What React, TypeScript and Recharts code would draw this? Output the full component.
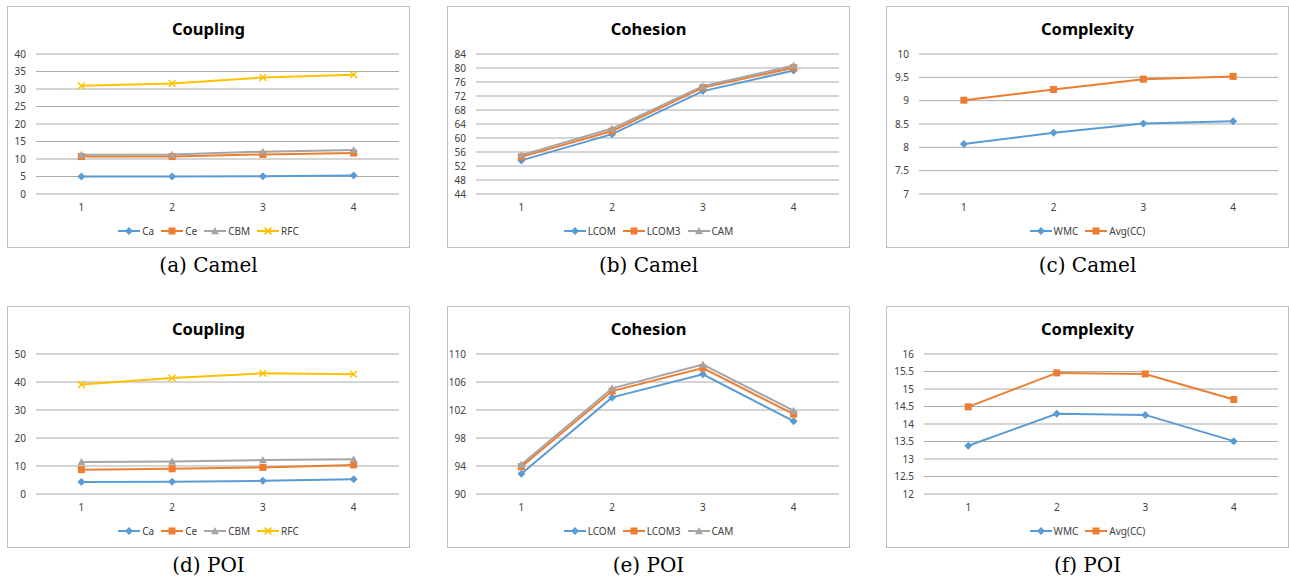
import React from "react";
import { LineChart, Line, XAxis, YAxis, CartesianGrid } from "recharts";

const xValues = [1, 2, 3, 4];

// Camel
const camelCa = [5.0, 5.0, 5.1, 5.3];
const camelCe = [10.7, 10.7, 11.3, 11.7];
const camelCbm = [11.2, 11.3, 12.1, 12.6];
const camelRfc = [30.9, 31.6, 33.3, 34.1];
const camelLcom = [53.6, 61.1, 73.4, 79.3];
const camelLcom3 = [54.6, 62.0, 74.4, 80.1];
const camelCam = [55.1, 62.7, 74.8, 80.7];
const camelWmc = [8.07, 8.31, 8.51, 8.56];
const camelAvgCc = [9.01, 9.24, 9.46, 9.52];

// POI
const poiCa = [4.3, 4.4, 4.7, 5.3];
const poiCe = [8.7, 9.0, 9.5, 10.4];
const poiCbm = [11.4, 11.6, 12.1, 12.4];
const poiRfc = [39.1, 41.4, 43.1, 42.8];
const poiLcom = [92.9, 103.8, 107.1, 100.4];
const poiLcom3 = [93.9, 104.7, 108.0, 101.4];
const poiCam = [94.2, 105.1, 108.5, 101.9];
const poiWmc = [13.38, 14.29, 14.26, 13.51];
const poiAvgCc = [14.49, 15.46, 15.43, 14.7];

// y-axis ticks
const couplingCamelTicks = [0, 5, 10, 15, 20, 25, 30, 35, 40];
const cohesionCamelTicks = [44, 48, 52, 56, 60, 64, 68, 72, 76, 80, 84];
const complexityCamelTicks = [7, 7.5, 8, 8.5, 9, 9.5, 10];
const couplingPoiTicks = [0, 10, 20, 30, 40, 50];
const cohesionPoiTicks = [90, 94, 98, 102, 106, 110];
const complexityPoiTicks = [12, 12.5, 13, 13.5, 14, 14.5, 15, 15.5, 16];

const BLUE = "#5B9BD5";
const ORANGE = "#ED7D31";
const GRAY = "#A5A5A5";
const YELLOW = "#FFC000";

type Marker = "diamond" | "square" | "triangle" | "x";
interface Series {
  name: string;
  values: number[];
  color: string;
  marker: Marker;
}

function markerShape(marker: Marker, color: string, cx: number, cy: number, key?: string) {
  if (marker === "diamond") {
    const r = 4;
    return (
      <path key={key} d={`M${cx},${cy - r}L${cx + r},${cy}L${cx},${cy + r}L${cx - r},${cy}Z`} fill={color} />
    );
  }
  if (marker === "square") {
    const s = 7;
    return <rect key={key} x={cx - s / 2} y={cy - s / 2} width={s} height={s} fill={color} />;
  }
  if (marker === "triangle") {
    const r = 4;
    return (
      <path key={key} d={`M${cx},${cy - r}L${cx + r},${cy + 3.2}L${cx - r},${cy + 3.2}Z`} fill={color} />
    );
  }
  const r = 3.4;
  return (
    <g key={key} stroke={color} strokeWidth={1.5}>
      <line x1={cx - r} y1={cy - r} x2={cx + r} y2={cy + r} />
      <line x1={cx - r} y1={cy + r} x2={cx + r} y2={cy - r} />
    </g>
  );
}

const makeDot = (marker: Marker, color: string) => (props: any) => {
  const { cx, cy, index } = props;
  if (cx == null || cy == null) return <g key={`e-${index}`} />;
  return markerShape(marker, color, cx, cy, `d-${index}`);
};

interface PanelProps {
  left: number;
  top: number;
  title: string;
  caption: string;
  series: Series[];
  ticks: number[];
  yWidth: number;
}

const tickStyle = { fontSize: 10, fill: "#404040", fontFamily: "Noto Sans" };

function Panel({ left, top, title, caption, series, ticks, yWidth }: PanelProps) {
  const data = xValues.map((x, i) => {
    const row: Record<string, number> = { x };
    series.forEach((s) => (row[s.name] = s.values[i]));
    return row;
  });

  return (
    <>
      <div
        style={{
          position: "absolute",
          left,
          top,
          width: 403,
          height: 242,
          boxSizing: "border-box",
          border: "1px solid #bfbfbf",
          background: "#fff",
        }}
      >
        <div
          style={{
            position: "absolute",
            left: 0,
            right: 0,
            top: 10,
            textAlign: "center",
            fontFamily: "Noto Sans",
            fontWeight: 700,
            fontSize: 16.5,
            color: "#000",
          }}
        >
          {title}
        </div>
        <LineChart width={401} height={240} data={data} margin={{ top: 47, right: 10, left: 0, bottom: 33 }}>
          <CartesianGrid vertical={false} stroke="#ababab" />
          <XAxis
            dataKey="x"
            type="number"
            domain={[0.5, 4.5]}
            ticks={xValues}
            axisLine={false}
            tickLine={false}
            tick={tickStyle}
            tickMargin={4}
            height={20}
          />
          <YAxis
            type="number"
            domain={[ticks[0], ticks[ticks.length - 1]]}
            ticks={ticks}
            interval={0}
            width={yWidth}
            axisLine={false}
            tickLine={false}
            tick={tickStyle}
            tickMargin={4}
          />
          {series.map((s) => (
            <Line
              key={s.name}
              dataKey={s.name}
              stroke={s.color}
              strokeWidth={2}
              dot={makeDot(s.marker, s.color)}
              activeDot={false}
              isAnimationActive={false}
            />
          ))}
        </LineChart>
        <div
          style={{
            position: "absolute",
            left: 0,
            right: 0,
            top: 217,
            height: 14,
            display: "flex",
            justifyContent: "center",
            alignItems: "center",
            gap: 7,
            fontFamily: "Noto Sans",
            fontSize: 10,
            color: "#404040",
          }}
        >
          {series.map((s) => (
            <div key={s.name} style={{ display: "flex", alignItems: "center", gap: 2 }}>
              <svg width={22} height={10}>
                <line x1={0} y1={5} x2={22} y2={5} stroke={s.color} strokeWidth={2} />
                {markerShape(s.marker, s.color, 11, 5)}
              </svg>
              <span>{s.name}</span>
            </div>
          ))}
        </div>
      </div>
      <div
        style={{
          position: "absolute",
          left,
          top: top + 247,
          width: 403,
          textAlign: "center",
          fontFamily: "DejaVu Serif",
          fontSize: 20,
          lineHeight: "24px",
          color: "#000",
        }}
      >
        {caption}
      </div>
    </>
  );
}

export default function App() {
  const couplingSeries = (ca: number[], ce: number[], cbm: number[], rfc: number[]): Series[] => [
    { name: "Ca", values: ca, color: BLUE, marker: "diamond" },
    { name: "Ce", values: ce, color: ORANGE, marker: "square" },
    { name: "CBM", values: cbm, color: GRAY, marker: "triangle" },
    { name: "RFC", values: rfc, color: YELLOW, marker: "x" },
  ];
  const cohesionSeries = (lcom: number[], lcom3: number[], cam: number[]): Series[] => [
    { name: "LCOM", values: lcom, color: BLUE, marker: "diamond" },
    { name: "LCOM3", values: lcom3, color: ORANGE, marker: "square" },
    { name: "CAM", values: cam, color: GRAY, marker: "triangle" },
  ];
  const complexitySeries = (wmc: number[], avg: number[]): Series[] => [
    { name: "WMC", values: wmc, color: BLUE, marker: "diamond" },
    { name: "Avg(CC)", values: avg, color: ORANGE, marker: "square" },
  ];

  return (
    <div
      style={{
        position: "absolute",
        left: 0,
        top: 0,
        width: 1289,
        height: 580,
        overflow: "hidden",
        background: "#fff",
      }}
    >
      <Panel
        left={7}
        top={6}
        title="Coupling"
        caption="(a) Camel"
        series={couplingSeries(camelCa, camelCe, camelCbm, camelRfc)}
        ticks={couplingCamelTicks}
        yWidth={28}
      />
      <Panel
        left={447}
        top={6}
        title="Cohesion"
        caption="(b) Camel"
        series={cohesionSeries(camelLcom, camelLcom3, camelCam)}
        ticks={cohesionCamelTicks}
        yWidth={28}
      />
      <Panel
        left={886}
        top={6}
        title="Complexity"
        caption="(c) Camel"
        series={complexitySeries(camelWmc, camelAvgCc)}
        ticks={complexityCamelTicks}
        yWidth={32}
      />
      <Panel
        left={7}
        top={306}
        title="Coupling"
        caption="(d) POI"
        series={couplingSeries(poiCa, poiCe, poiCbm, poiRfc)}
        ticks={couplingPoiTicks}
        yWidth={28}
      />
      <Panel
        left={447}
        top={306}
        title="Cohesion"
        caption="(e) POI"
        series={cohesionSeries(poiLcom, poiLcom3, poiCam)}
        ticks={cohesionPoiTicks}
        yWidth={28}
      />
      <Panel
        left={886}
        top={306}
        title="Complexity"
        caption="(f) POI"
        series={complexitySeries(poiWmc, poiAvgCc)}
        ticks={complexityPoiTicks}
        yWidth={37}
      />
    </div>
  );
}
